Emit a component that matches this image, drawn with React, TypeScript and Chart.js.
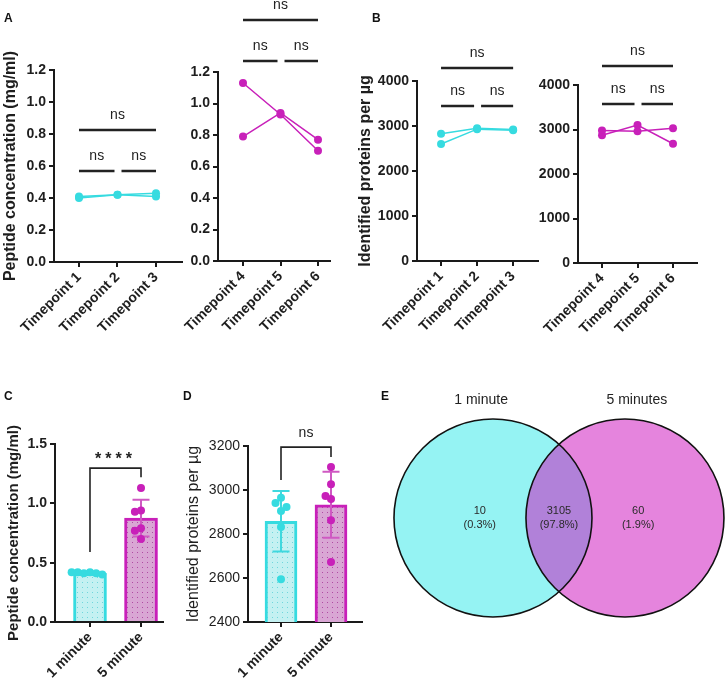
import React, { useEffect, useRef } from "react";
import { Chart, registerables } from "chart.js";
Chart.register(...registerables);

const W = 726;
const H = 681;
const FONT = "'Liberation Sans', Arial, Helvetica, sans-serif";
const TEXT = "#1e1e1e";
const AXIS = "#1a1a1a";
const CYAN = "#36dbe0";
const MAGENTA = "#c820b9";
const VENN_L = "#95f3f3";
const VENN_R = "#e584dd";
const VENN_MID = "#b181d9";

// ---------- Panel A: peptide concentration per timepoint ----------
const timepointsEarly = ["Timepoint 1", "Timepoint 2", "Timepoint 3"];
const timepointsLate = ["Timepoint 4", "Timepoint 5", "Timepoint 6"];
const peptideEarlyRep1 = [0.4, 0.42, 0.43];
const peptideEarlyRep2 = [0.41, 0.42, 0.41];
const peptideLateRep1 = [1.13, 0.93, 0.7];
const peptideLateRep2 = [0.79, 0.94, 0.77];
const peptideTicks = [0, 0.2, 0.4, 0.6, 0.8, 1.0, 1.2];

// ---------- Panel B: identified proteins per timepoint ----------
const proteinsEarlyRep1 = [2830, 2950, 2920];
const proteinsEarlyRep2 = [2600, 2930, 2905];
const proteinsLateRep1 = [2870, 3100, 2680];
const proteinsLateRep2 = [2980, 2960, 3030];
const proteinTicks = [0, 1000, 2000, 3000, 4000];

// ---------- Panel C: peptide concentration by digestion time ----------
const durations = ["1 minute", "5 minute"];
const peptide1min = [0.42, 0.41, 0.41, 0.42, 0.4, 0.42];
const peptide5min = [1.13, 0.94, 0.93, 0.79, 0.77, 0.7];
const peptideMeans = [0.41, 0.875];
const peptideSD = [0.01, 0.155];
const peptideBarTicks = [0, 0.5, 1.0, 1.5];

// ---------- Panel D: identified proteins by digestion time ----------
const proteins1min = [2965, 2941, 2905, 2923, 2832, 2594];
const proteins5min = [3105, 3026, 2959, 2973, 2862, 2673];
const proteinMeans = [2858, 2933];
const proteinSD = [138, 150];
const proteinBarTicks = [2400, 2600, 2800, 3000, 3200];

// ---------- Panel E: Venn ----------
const vennSets = ["1 minute", "5 minutes"];
const vennCounts = [10, 3105, 60]; // only 1 min, both, only 5 min

type Area = { l: number; t: number; r: number; b: number };
type Bracket = {
  from: number;
  to: number;
  y: number;
  label: string;
  trimL?: number;
  trimR?: number;
  legL?: number;
  legR?: number;
  bold?: boolean;
  size?: number;
  lw?: number;
  textDy?: number;
  spacing?: string;
};
type ErrSpec = { means: number[]; sds: number[]; colors: string[]; cap: number };

const fnt = (size: number, bold = false): any => ({ family: FONT, size, weight: bold ? "bold" : "normal" });

function makeAnnot(brackets: Bracket[], err?: ErrSpec) {
  return {
    id: "annot",
    afterDatasetDraw(chart: any, args: any) {
      if (!err || args.meta.type !== "bar") return;
      const { ctx } = chart;
      const xs = chart.scales.x;
      const ys = chart.scales.y;
      err.means.forEach((m, i) => {
        const x = xs.getPixelForValue(i);
        const yTop = ys.getPixelForValue(m + err.sds[i]);
        const yBot = ys.getPixelForValue(m - err.sds[i]);
        ctx.save();
        ctx.strokeStyle = err.colors[i];
        ctx.lineWidth = 2;
        ctx.beginPath();
        ctx.moveTo(x, yTop);
        ctx.lineTo(x, yBot);
        ctx.moveTo(x - err.cap / 2, yTop);
        ctx.lineTo(x + err.cap / 2, yTop);
        ctx.moveTo(x - err.cap / 2, yBot);
        ctx.lineTo(x + err.cap / 2, yBot);
        ctx.stroke();
        ctx.restore();
      });
    },
    afterDraw(chart: any) {
      const { ctx } = chart;
      const xs = chart.scales.x;
      const ys = chart.scales.y;
      brackets.forEach((b) => {
        const x1 = xs.getPixelForValue(b.from) + (b.trimL || 0);
        const x2 = xs.getPixelForValue(b.to) - (b.trimR || 0);
        const y = ys.getPixelForValue(b.y);
        ctx.save();
        ctx.strokeStyle = "#222";
        ctx.lineWidth = b.lw ?? 2.5;
        ctx.lineCap = "butt";
        ctx.beginPath();
        if (b.legL !== undefined) {
          ctx.moveTo(x1, ys.getPixelForValue(b.legL));
          ctx.lineTo(x1, y);
        } else ctx.moveTo(x1, y);
        ctx.lineTo(x2, y);
        if (b.legR !== undefined) ctx.lineTo(x2, ys.getPixelForValue(b.legR));
        ctx.stroke();
        ctx.fillStyle = "#222";
        ctx.font = `${b.bold ? "bold " : ""}${b.size ?? 14}px ${FONT}`;
        if (b.spacing) (ctx as any).letterSpacing = b.spacing;
        ctx.textAlign = "center";
        ctx.textBaseline = "alphabetic";
        ctx.fillText(b.label, (x1 + x2) / 2, y - (b.textDy ?? 11));
        ctx.restore();
      });
    },
  };
}

type PanelOpts = {
  area: Area;
  padLeft: number;
  labels: string[];
  xMin: number;
  xMax: number;
  yMin: number;
  yMax: number;
  yTicks: number[];
  yFormat: (v: number) => string;
  yFont: any;
  xFont: any;
  title?: string;
  titleFont?: any;
};

function scalesFor(o: PanelOpts) {
  const grid = { display: true, drawOnChartArea: false, drawTicks: true, tickLength: 5, color: AXIS, lineWidth: 2, offset: false };
  const border = { display: true, color: AXIS, width: 2 };
  return {
    x: {
      type: "linear",
      min: o.xMin,
      max: o.xMax,
      offset: false,
      afterBuildTicks: (s: any) => {
        s.ticks = o.labels.map((_, i) => ({ value: i }));
      },
      afterFit: (s: any) => {
        s.height = H - o.area.b;
        s.paddingLeft = 0;
        s.paddingRight = 0;
      },
      ticks: {
        callback: (v: any) => o.labels[Math.round(v)] ?? "",
        minRotation: 45,
        maxRotation: 45,
        autoSkip: false,
        font: o.xFont,
        color: TEXT,
        padding: 2,
      },
      grid,
      border,
    },
    y: {
      type: "linear",
      min: o.yMin,
      max: o.yMax,
      afterBuildTicks: (s: any) => {
        s.ticks = o.yTicks.map((v) => ({ value: v }));
      },
      afterFit: (s: any) => {
        s.width = o.area.l - o.padLeft;
        s.paddingTop = 0;
        s.paddingBottom = 0;
      },
      ticks: { callback: (v: any) => o.yFormat(v), font: o.yFont, color: TEXT, padding: 3, autoSkip: false },
      grid,
      border,
      title: o.title
        ? { display: true, text: o.title, font: o.titleFont, color: TEXT, padding: 0 }
        : { display: false },
    },
  };
}

function baseOptions(o: PanelOpts): any {
  return {
    responsive: false,
    animation: false,
    events: [],
    layout: { autoPadding: false, padding: { left: o.padLeft, top: o.area.t, right: W - o.area.r, bottom: 0 } },
    plugins: { legend: { display: false }, tooltip: { enabled: false } },
    scales: scalesFor(o),
  };
}

function buildLinePanel(canvas: HTMLCanvasElement, o: PanelOpts, series: number[][], color: string, brackets: Bracket[]) {
  return new Chart(canvas, {
    type: "line",
    data: {
      datasets: series.map((s) => ({
        data: s.map((y, i) => ({ x: i, y })),
        borderColor: color,
        backgroundColor: color,
        borderWidth: 1.5,
        pointRadius: 4,
        pointBorderWidth: 0,
        pointBackgroundColor: color,
        tension: 0,
      })),
    },
    options: baseOptions(o),
    plugins: [makeAnnot(brackets)],
  } as any);
}

function dotPattern(ctx: CanvasRenderingContext2D, bg: string, dot: string) {
  const c = document.createElement("canvas");
  c.width = 5;
  c.height = 5;
  const g = c.getContext("2d")!;
  g.fillStyle = bg;
  g.fillRect(0, 0, 5, 5);
  g.fillStyle = dot;
  g.fillRect(2, 2, 1, 1);
  return ctx.createPattern(c, "repeat");
}

// simple beeswarm: spread points of similar value sideways
function swarm(values: number[], yTol: number, step: number): number[] {
  const placed: { dx: number; y: number }[] = [];
  return values.map((v) => {
    for (let k = 0; k < 20; k++) {
      const dx = k === 0 ? 0 : (k % 2 ? -1 : 1) * Math.ceil(k / 2) * step;
      const ok = placed.every((p) => ((p.dx - dx) / step) ** 2 + ((p.y - v) / yTol) ** 2 >= 0.999);
      if (ok) {
        placed.push({ dx, y: v });
        return dx;
      }
    }
    return 0;
  });
}

function buildBarPanel(
  canvas: HTMLCanvasElement,
  o: PanelOpts,
  groups: number[][],
  means: number[],
  sds: number[],
  fills: { bg: string; dot: string }[],
  errColors: string[],
  barWidth: number,
  yTol: number,
  step: number,
  brackets: Bracket[]
) {
  const ctx = canvas.getContext("2d")!;
  const colors = [CYAN, MAGENTA];
  const datasets: any[] = groups.map((vals, gi) => {
    const offs = swarm(vals, yTol, step);
    return {
      type: "scatter",
      data: vals.map((v, k) => ({ x: gi + offs[k], y: v })),
      pointRadius: 4,
      pointBorderWidth: 0,
      pointBackgroundColor: colors[gi],
      backgroundColor: colors[gi],
      order: 1,
    };
  });
  datasets.push({
    type: "bar",
    data: means.map((m, i) => ({ x: i, y: m })),
    backgroundColor: fills.map((f) => dotPattern(ctx, f.bg, f.dot)),
    borderColor: colors,
    borderWidth: 3,
    barThickness: barWidth,
    order: 2,
  });
  return new Chart(canvas, {
    type: "bar",
    data: { datasets },
    options: baseOptions(o),
    plugins: [makeAnnot(brackets, { means, sds, colors: errColors, cap: 17 })],
  } as any);
}

function buildVenn(canvas: HTMLCanvasElement) {
  const area = { l: 361, t: 419, r: 725, b: 617 };
  const total = vennCounts.reduce((a, b) => a + b, 0);
  const vennPlugin = {
    id: "venn",
    afterDatasetsDraw(chart: any) {
      const { ctx } = chart;
      const xs = chart.scales.x;
      const ys = chart.scales.y;
      const meta = chart.getDatasetMeta(0);
      const [a, b] = meta.data;
      const r = a.options.radius;
      ctx.save();
      ctx.beginPath();
      ctx.arc(a.x, a.y, r, 0, Math.PI * 2);
      ctx.clip();
      ctx.beginPath();
      ctx.arc(b.x, b.y, r, 0, Math.PI * 2);
      ctx.fillStyle = VENN_MID;
      ctx.fill();
      ctx.restore();
      ctx.save();
      ctx.strokeStyle = "#111";
      ctx.lineWidth = 1.6;
      [a, b].forEach((p: any) => {
        ctx.beginPath();
        ctx.arc(p.x, p.y, r, 0, Math.PI * 2);
        ctx.stroke();
      });
      ctx.fillStyle = "#2a2a2a";
      ctx.textAlign = "center";
      ctx.textBaseline = "middle";
      ctx.font = `11px ${FONT}`;
      const labelX = [-0.1, 0.5, 1.1];
      vennCounts.forEach((c, i) => {
        const x = xs.getPixelForValue(labelX[i]);
        const y = ys.getPixelForValue(0);
        ctx.fillText(String(c), x, y - 7);
        ctx.fillText(`(${((c / total) * 100).toFixed(1)}%)`, x, y + 7);
      });
      ctx.font = `14px ${FONT}`;
      ctx.fillStyle = "#222";
      const titleX = [-0.09, 1.09];
      vennSets.forEach((s, i) => {
        ctx.fillText(s, xs.getPixelForValue(titleX[i]), ys.getPixelForValue(1.19));
      });
      ctx.restore();
    },
  };
  return new Chart(canvas, {
    type: "bubble",
    data: {
      datasets: [
        {
          data: vennSets.map((_, i) => ({ x: i, y: 0 })),
          backgroundColor: [VENN_L, VENN_R],
          borderWidth: 0,
          radius: 99,
          clip: false,
        },
      ],
    },
    options: {
      responsive: false,
      animation: false,
      events: [],
      layout: { autoPadding: false, padding: { left: area.l, top: area.t, right: W - area.r, bottom: H - area.b } },
      plugins: { legend: { display: false }, tooltip: { enabled: false } },
      scales: {
        x: { type: "linear", display: false, min: -1.0, max: 1.758 },
        y: { type: "linear", display: false, min: -1, max: 1 },
      },
    },
    plugins: [vennPlugin],
  } as any);
}

const f1 = (v: number) => v.toFixed(1);
const f0 = (v: number) => String(Math.round(v));

const builders: ((c: HTMLCanvasElement) => Chart)[] = [
  (c) =>
    buildLinePanel(
      c,
      {
        area: { l: 54, t: 70, r: 182, b: 262 },
        padLeft: 1,
        labels: timepointsEarly,
        xMin: -0.649,
        xMax: 2.675,
        yMin: 0,
        yMax: 1.2,
        yTicks: peptideTicks,
        yFormat: f1,
        yFont: fnt(14, true),
        xFont: fnt(14, true),
        title: "Peptide concentration (mg/ml)",
        titleFont: fnt(16, true),
      },
      [peptideEarlyRep1, peptideEarlyRep2],
      CYAN,
      [
        { from: 0, to: 2, y: 0.825, label: "ns" },
        { from: 0, to: 1, y: 0.569, label: "ns", trimR: 3 },
        { from: 1, to: 2, y: 0.569, label: "ns", trimL: 4 },
      ]
    ),
  (c) =>
    buildLinePanel(
      c,
      {
        area: { l: 218, t: 72, r: 330, b: 261 },
        padLeft: 178,
        labels: timepointsLate,
        xMin: -0.667,
        xMax: 2.32,
        yMin: 0,
        yMax: 1.2,
        yTicks: peptideTicks,
        yFormat: f1,
        yFont: fnt(14, true),
        xFont: fnt(14, true),
      },
      [peptideLateRep1, peptideLateRep2],
      MAGENTA,
      [
        { from: 0, to: 2, y: 1.53, label: "ns" },
        { from: 0, to: 1, y: 1.27, label: "ns", trimR: 3 },
        { from: 1, to: 2, y: 1.27, label: "ns", trimL: 4 },
      ]
    ),
  (c) =>
    buildLinePanel(
      c,
      {
        area: { l: 417, t: 81, r: 538, b: 261 },
        padLeft: 356,
        labels: timepointsEarly,
        xMin: -0.667,
        xMax: 2.69,
        yMin: 0,
        yMax: 4000,
        yTicks: proteinTicks,
        yFormat: f0,
        yFont: fnt(14, true),
        xFont: fnt(14, true),
        title: "Identified proteins per µg",
        titleFont: fnt(16, true),
      },
      [proteinsEarlyRep1, proteinsEarlyRep2],
      CYAN,
      [
        { from: 0, to: 2, y: 4289, label: "ns" },
        { from: 0, to: 1, y: 3444, label: "ns", trimR: 3 },
        { from: 1, to: 2, y: 3444, label: "ns", trimL: 4 },
      ]
    ),
  (c) =>
    buildLinePanel(
      c,
      {
        area: { l: 578, t: 85, r: 697, b: 263 },
        padLeft: 528,
        labels: timepointsLate,
        xMin: -0.676,
        xMax: 2.676,
        yMin: 0,
        yMax: 4000,
        yTicks: proteinTicks,
        yFormat: f0,
        yFont: fnt(14, true),
        xFont: fnt(14, true),
      },
      [proteinsLateRep1, proteinsLateRep2],
      MAGENTA,
      [
        { from: 0, to: 2, y: 4427, label: "ns" },
        { from: 0, to: 1, y: 3573, label: "ns", trimR: 3 },
        { from: 1, to: 2, y: 3573, label: "ns", trimL: 4 },
      ]
    ),
  (c) =>
    buildBarPanel(
      c,
      {
        area: { l: 55, t: 444, r: 163, b: 622 },
        padLeft: 5,
        labels: durations,
        xMin: -0.686,
        xMax: 1.431,
        yMin: 0,
        yMax: 1.5,
        yTicks: peptideBarTicks,
        yFormat: f1,
        yFont: fnt(14, true),
        xFont: fnt(14, true),
        title: "Peptide concentration (mg/ml)",
        titleFont: fnt(15, true),
      },
      [peptide1min, peptide5min],
      peptideMeans,
      peptideSD,
      [
        { bg: "#c4f1f2", dot: "#6fd6dc" },
        { bg: "#d9a6d4", dot: "#b04aa3" },
      ],
      ["#3fd8de", "#cf59c2"],
      33,
      0.06,
      0.12,
      [{ from: 0, to: 1, y: 1.297, legL: 0.59, legR: 1.22, label: "****", bold: true, size: 16, lw: 1.6, textDy: 4, spacing: "4px" }]
    ),
  (c) =>
    buildBarPanel(
      c,
      {
        area: { l: 248, t: 446, r: 362, b: 622 },
        padLeft: 184,
        labels: durations,
        xMin: -0.66,
        xMax: 1.62,
        yMin: 2400,
        yMax: 3200,
        yTicks: proteinBarTicks,
        yFormat: f0,
        yFont: fnt(14, false),
        xFont: fnt(14, true),
        title: "Identified proteins per µg",
        titleFont: fnt(16, false),
      },
      [proteins1min, proteins5min],
      proteinMeans,
      proteinSD,
      [
        { bg: "#c4f1f2", dot: "#6fd6dc" },
        { bg: "#d9a6d4", dot: "#b04aa3" },
      ],
      ["#3fd8de", "#cf59c2"],
      32,
      32,
      0.11,
      [{ from: 0, to: 1, y: 3195, legL: 3045, legR: 3150, label: "ns", lw: 1.6, textDy: 10 }]
    ),
  (c) => buildVenn(c),
];

function ChartCanvas({ build }: { build: (c: HTMLCanvasElement) => Chart }) {
  const ref = useRef<HTMLCanvasElement>(null);
  useEffect(() => {
    const ch = build(ref.current!);
    return () => ch.destroy();
  }, []);
  return (
    <canvas
      ref={ref}
      width={W}
      height={H}
      style={{ position: "absolute", left: 0, top: 0, width: W, height: H }}
    />
  );
}

const panelLetters = [
  { t: "A", x: 4, y: 11 },
  { t: "B", x: 372, y: 11 },
  { t: "C", x: 4, y: 389 },
  { t: "D", x: 183, y: 389 },
  { t: "E", x: 381, y: 389 },
];

export default function App() {
  Chart.defaults.font.family = FONT;
  return (
    <div style={{ position: "absolute", left: 0, top: 0, width: W, height: H, background: "#fff", overflow: "hidden" }}>
      {builders.map((b, i) => (
        <ChartCanvas key={i} build={b} />
      ))}
      {panelLetters.map((p) => (
        <span
          key={p.t}
          style={{ position: "absolute", left: p.x, top: p.y, font: `bold 12px ${FONT}`, color: "#111", lineHeight: "14px" }}
        >
          {p.t}
        </span>
      ))}
    </div>
  );
}
